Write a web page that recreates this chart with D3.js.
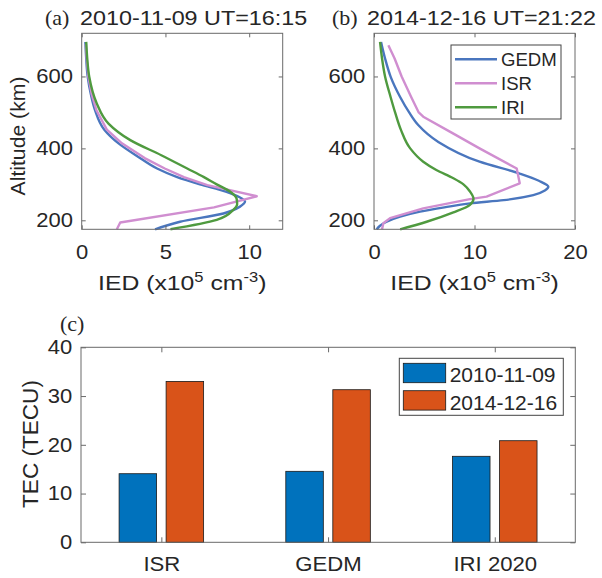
<!DOCTYPE html>
<html>
<head>
<meta charset="utf-8">
<script src="https://cdn.jsdelivr.net/npm/d3@7"></script>
<style>
  body { margin: 0; background: #fff; }
  text { fill: #262626; }
</style>
</head>
<body>
<script>
// ---- data ----
// profiles: [altitude km, IED x10^5 cm^-3]
var gedmA = [[175,4.38],[196,5.87],[219,8.46],[238,9.45],[252,9.75],[265,9.4],[280,8.6],[300,7.06],[320,5.7],[344,4.5],[377,3.36],[414,2.2],[452,1.35],[506,0.8],[550,0.55],[599,0.36],[650,0.27],[696,0.22]];
var isrA  = [[175,2.1],[194,2.3],[236,7.9],[267,10.45],[298,7.5],[320,6.1],[344,4.96],[373,3.76],[414,2.4],[452,1.5],[506,0.88],[550,0.6],[599,0.4],[650,0.3],[690,0.25]];
var iriA  = [[175,5.3],[201,8.06],[229,9.05],[245,9.28],[260,9.25],[280,8.85],[300,8.06],[320,7.3],[344,6.3],[381,4.75],[423,2.9],[469,1.6],[525,0.9],[599,0.45],[650,0.33],[696,0.27]];

var gedmB = [[175,0.27],[185,0.6],[196,1.26],[210,2.6],[224,4.58],[236,7.0],[247,9.55],[256,12.9],[270,15.85],[283,17.0],[293,17.35],[310,16.4],[330,14.5],[363,10.5],[418,6.4],[465,4.4],[500,3.5],[543,2.6],[599,1.66],[650,1.1],[696,0.7]];
var isrB  = [[175,0.8],[192,0.93],[206,1.6],[233,4.9],[259,9.55],[266,11.2],[303,14.5],[344,14.2],[400,10.5],[441,7.9],[488,4.9],[500,4.45],[543,3.7],[600,2.75],[650,2.05],[687,1.43]];
var iriB  = [[175,2.6],[196,5.24],[222,7.9],[243,9.55],[260,9.9],[280,9.55],[300,8.9],[317,7.9],[340,6.2],[363,4.9],[400,3.6],[450,2.7],[500,2.1],[543,1.65],[600,1.1],[650,0.8],[696,0.6]];

var altTicks = [200, 400, 600];
var xTicksA = [0, 5, 10];
var xTicksB = [0, 10, 20];

// TEC bars
var models = ["ISR", "GEDM", "IRI 2020"];
var dates = ["2010-11-09", "2014-12-16"];
var tec2010 = [14.07, 14.56, 17.64];
var tec2014 = [33.0, 31.3, 20.84];
var tecTicks = [0, 10, 20, 30, 40];

var lineColors = { GEDM: "#4a76be", ISR: "#d08ed0", IRI: "#4f9a3f" };
var barColors = ["#0072bd", "#d95319"];

// ---- svg ----
var svg = d3.select("body").append("svg")
  .attr("width", 602)
  .attr("height", 578)
  .style("font-family", "'Liberation Sans', Arial, sans-serif");

svg.append("rect").attr("width", 602).attr("height", 578).attr("fill", "#fff");

var frameColor = "#6a6a6a";

function stretch(sel, sx) {
  sel.attr("transform", "scale(" + sx + ",1)");
}

// profile panels
function profilePanel(cfg) {
  var x = d3.scaleLinear().domain(cfg.xDomain).range([cfg.left, cfg.right]);
  var y = d3.scaleLinear().domain([175, 720]).range([229.3, 33.3]);
  var g = svg.append("g");

  var line = d3.line().x(d => x(d[1])).y(d => y(d[0]));

  cfg.series.forEach(function(s) {
    g.append("path")
      .datum(s.data)
      .attr("d", line.curve(s.curve))
      .attr("fill", "none")
      .attr("stroke", lineColors[s.name])
      .attr("stroke-width", 2.4)
      .attr("stroke-linejoin", "round");
  });

  // axes, ticks pointing in
  var xb = g.append("g").attr("transform", "translate(0,229.3)")
    .call(d3.axisBottom(x).tickValues(cfg.xTicks).tickSizeInner(-4).tickSizeOuter(0).tickPadding(16));
  var xt = g.append("g").attr("transform", "translate(0,33.3)")
    .call(d3.axisTop(x).tickValues(cfg.xTicks).tickSizeInner(-4).tickSizeOuter(0).tickFormat(""));
  var yl = g.append("g").attr("transform", `translate(${cfg.left},0)`)
    .call(d3.axisLeft(y).tickValues(altTicks).tickSizeInner(-4).tickSizeOuter(0).tickPadding(8));
  var yr = g.append("g").attr("transform", `translate(${cfg.right},0)`)
    .call(d3.axisRight(y).tickValues(altTicks).tickSizeInner(-4).tickSizeOuter(0).tickFormat(""));

  [xb, xt, yl, yr].forEach(function(a) {
    a.select(".domain").remove();
    a.selectAll("line").attr("stroke", frameColor);
    a.selectAll("text").attr("font-size", 20).attr("fill", "#262626")
      .attr("font-family", "'Liberation Sans', Arial, sans-serif");
  });
  stretch(xb.selectAll("text"), 1.1);
  stretch(yl.selectAll("text"), 1.1);

  g.append("rect")
    .attr("x", cfg.left).attr("y", 33.3)
    .attr("width", cfg.right - cfg.left).attr("height", 229.3 - 33.3)
    .attr("fill", "none").attr("stroke", frameColor).attr("stroke-width", 1);

  // title
  g.append("text")
    .attr("x", cfg.titleX).attr("y", 25)
    .attr("font-family", "'Liberation Serif', 'Times New Roman', serif")
    .attr("font-size", 22)
    .text(cfg.tag);
  g.append("text")
    .attr("transform", `translate(${cfg.titleX + 35},25) scale(1.15,1)`)
    .attr("font-size", 20.3)
    .text(cfg.title);

  // x label
  var xl = g.append("text")
    .attr("transform", `translate(${(cfg.left + cfg.right) / 2},290) scale(1.18,1)`)
    .attr("text-anchor", "middle")
    .attr("font-size", 21);
  xl.append("tspan").text("IED (x10");
  xl.append("tspan").attr("font-size", 14).attr("dy", -8).text("5");
  xl.append("tspan").attr("dy", 8).text(" cm");
  xl.append("tspan").attr("font-size", 14).attr("dy", -8).text("-3");
  xl.append("tspan").attr("dy", 8).text(")");

  return g;
}

var pa = profilePanel({
  xDomain: [0, 12], left: 81.7, right: 282.7, xTicks: xTicksA,
  tag: "(a)", title: "2010-11-09 UT=16:15", titleX: 45,
  series: [
    { name: "GEDM", data: gedmA, curve: d3.curveMonotoneY },
    { name: "ISR", data: isrA, curve: d3.curveLinear },
    { name: "IRI", data: iriA, curve: d3.curveMonotoneY }
  ]
});

var pb = profilePanel({
  xDomain: [0, 20], left: 374, right: 575, xTicks: xTicksB,
  tag: "(b)", title: "2014-12-16 UT=21:22", titleX: 332,
  series: [
    { name: "GEDM", data: gedmB, curve: d3.curveMonotoneY },
    { name: "ISR", data: isrB, curve: d3.curveLinear },
    { name: "IRI", data: iriB, curve: d3.curveMonotoneY }
  ]
});

// y label for top row
svg.append("text")
  .attr("transform", "translate(24.5,136) rotate(-90) scale(1.06,1)")
  .attr("text-anchor", "middle")
  .attr("font-size", 20)
  .text("Altitude (km)");

// legend in (b)
var leg = svg.append("g");
leg.append("rect")
  .attr("x", 451).attr("y", 45).attr("width", 110).attr("height", 74)
  .attr("fill", "#fff").attr("stroke", "#444").attr("stroke-width", 1);
["GEDM", "ISR", "IRI"].forEach(function(name, i) {
  var yy = 59.3 + i * 24;
  leg.append("line")
    .attr("x1", 455).attr("x2", 497).attr("y1", yy).attr("y2", yy)
    .attr("stroke", lineColors[name]).attr("stroke-width", 2.4);
  leg.append("text")
    .attr("x", 501).attr("y", yy + 6.7)
    .attr("font-size", 18.6)
    .text(name);
});

// ---- bar chart (c) ----
var xc = d3.scaleLinear().domain([0.518, 3.483]).range([81, 575.3]);
var yc = d3.scaleLinear().domain([0, 40]).range([542.3, 347.3]);
var bw = 0.225, off = 0.141;

var bars = svg.append("g");
[tec2010, tec2014].forEach(function(vals, k) {
  bars.selectAll("rect.s" + k)
    .data(vals)
    .enter()
    .append("rect")
    .attr("class", "s" + k)
    .attr("x", (d, i) => xc(i + 1 + (k === 0 ? -off : off) - bw / 2))
    .attr("width", xc(bw) - xc(0))
    .attr("y", d => yc(d))
    .attr("height", d => yc(0) - yc(d))
    .attr("fill", barColors[k])
    .attr("stroke", "#1a1a1a")
    .attr("stroke-width", 0.8);
});

var cb = svg.append("g").attr("transform", "translate(0,542.3)")
  .call(d3.axisBottom(xc).tickValues([1, 2, 3]).tickFormat(i => models[i - 1])
    .tickSizeInner(-5).tickSizeOuter(0).tickPadding(14.5));
var ct = svg.append("g").attr("transform", "translate(0,347.3)")
  .call(d3.axisTop(xc).tickValues([1, 2, 3]).tickFormat("").tickSizeInner(-5).tickSizeOuter(0));
var cl = svg.append("g").attr("transform", "translate(81,0)")
  .call(d3.axisLeft(yc).tickValues(tecTicks).tickSizeInner(-5).tickSizeOuter(0).tickPadding(8));
var cr = svg.append("g").attr("transform", "translate(575.3,0)")
  .call(d3.axisRight(yc).tickValues(tecTicks).tickFormat("").tickSizeInner(-5).tickSizeOuter(0));

[cb, ct, cl, cr].forEach(function(a) {
  a.select(".domain").remove();
  a.selectAll("line").attr("stroke", frameColor);
  a.selectAll("text").attr("fill", "#262626")
    .attr("font-family", "'Liberation Sans', Arial, sans-serif");
});
cb.selectAll("text").attr("font-size", 20.5);
stretch(cb.selectAll("text"), 1.08);
cl.selectAll("text").attr("font-size", 20);
stretch(cl.selectAll("text"), 1.1);

svg.append("rect")
  .attr("x", 81).attr("y", 347.3).attr("width", 575.3 - 81).attr("height", 542.3 - 347.3)
  .attr("fill", "none").attr("stroke", frameColor).attr("stroke-width", 1);

svg.append("text")
  .attr("x", 60).attr("y", 331)
  .attr("font-family", "'Liberation Serif', 'Times New Roman', serif")
  .attr("font-size", 22)
  .text("(c)");

svg.append("text")
  .attr("transform", "translate(37.5,444) rotate(-90) scale(1.05,1)")
  .attr("text-anchor", "middle")
  .attr("font-size", 21.5)
  .text("TEC (TECU)");

// legend (c)
var leg2 = svg.append("g");
leg2.append("rect")
  .attr("x", 399.3).attr("y", 358.3).attr("width", 164).attr("height", 57)
  .attr("fill", "#fff").attr("stroke", "#444").attr("stroke-width", 1);
dates.forEach(function(d, k) {
  var yy = 363.3 + k * 27.4;
  leg2.append("rect")
    .attr("x", 403.3).attr("y", yy).attr("width", 42.4).attr("height", 19.4)
    .attr("fill", barColors[k]).attr("stroke", "#1a1a1a").attr("stroke-width", 0.8);
  leg2.append("text")
    .attr("x", 449.7).attr("y", yy + 19)
    .attr("font-size", 21)
    .text(d);
});
</script>
</body>
</html>
